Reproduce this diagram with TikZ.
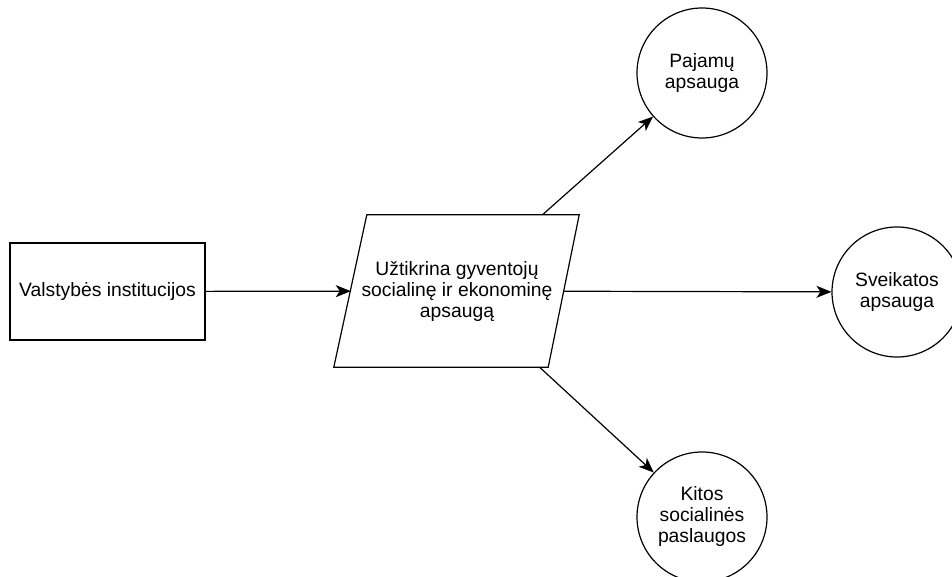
\documentclass[tikz,border=0pt]{standalone}
\usepackage{fontspec}
\setmainfont{Liberation Sans}
\usetikzlibrary{arrows.meta}

\tikzset{
  box/.style={draw, line width=1.2pt, minimum width=195pt, minimum height=97pt,
    inner sep=0pt, align=center},
  slantbox/.style={minimum width=212pt, minimum height=152pt, inner sep=0pt,
    align=center},
  bubble/.style={draw, line width=1.2pt, circle, minimum size=130pt, inner sep=0pt,
    align=center},
  link/.style={line width=1.2pt, -{Stealth[length=15pt, width=12pt, inset=4pt]}},
}

\begin{document}
\begin{tikzpicture}[x=1pt, y=-1pt,
  every node/.style={font=\fontsize{19.3}{21}\selectfont}]
  \clip (0,0) rectangle (952,577);
  \fill[white] (0,0) rectangle (952,577);

  % source box
  \node[box] (src) at (107.5,291.5) {Valstybės institucijos};

  % central process (parallelogram drawn around the text node)
  \node[slantbox] (proc) at (457,291)
    {Užtikrina gyventojų\\socialinę ir ekonominę\\apsaugą};
  \draw[line width=1.2pt, line join=miter]
    ([xshift=16pt]proc.north west) -- ([xshift=16pt]proc.north east)
    -- ([xshift=-15pt]proc.south east) -- ([xshift=-17pt]proc.south west)
    -- cycle;

  % outcomes
  \node[bubble] (inc) at (702,73) {Pajamų\\apsauga};
  \node[bubble] (hlth) at (897,292) {Sveikatos\\apsauga};
  \node[bubble] (svc) at (702,517) {Kitos\\socialinės\\paslaugos};

  % connectors
  \draw[link] (src) -- (proc);
  \draw[link] (proc) -- (inc);
  \draw[link] (proc) -- (hlth);
  \draw[link] (proc) -- (svc);
\end{tikzpicture}
\end{document}
